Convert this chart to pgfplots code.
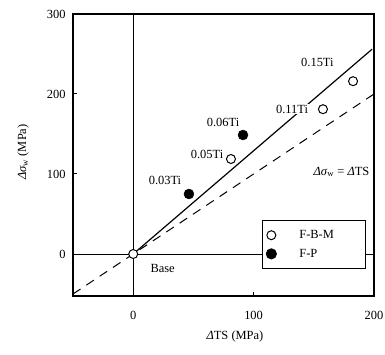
\documentclass[border=0pt]{standalone}
\usepackage{pgfplots}
\pgfplotsset{compat=1.18}
\usepackage{fontspec}
\setmainfont{Liberation Serif}
\begin{document}
\begin{tikzpicture}
\path[use as bounding box] (0,0) rectangle (385bp,355bp);
\begin{axis}[
 at={(73bp,59bp)}, anchor=south west,
 scale only axis, width=301bp, height=282bp,
 xmin=-50, xmax=200, ymin=-52.5, ymax=300,
 xtick={0,100,200}, ytick={0,100,200,300},
 tick pos=left, tick align=inside, major tick length=4bp,
 tick style={line width=1pt, black},
 axis line style={line width=1.1pt},
 font=\fontsize{12.5}{14}\selectfont,
 /pgf/number format/assume math mode=true,
 xticklabel style={yshift=-12bp},
 yticklabel style={xshift=-4bp},
 xlabel={\textit{Δ}TS (MPa)},
 ylabel={\textit{Δσ}\textsubscript{w} (MPa)},
 xlabel style={at={(axis description cs:0.538,-0.145)}, anchor=center},
 ylabel style={at={(axis description cs:-0.166,0.51)}, anchor=center},
 legend style={at={(0.973,0.270)}, anchor=north east, draw=black, line width=1.1pt,
   inner xsep=4bp, inner ysep=8bp, row sep=5bp, font=\fontsize{12.5}{14}\selectfont},
 legend cell align=left,
 clip=false,
]
\addplot[black, line width=1pt, forget plot] coordinates {(-50,0) (200,0)};
\addplot[black, line width=1pt, forget plot] coordinates {(0,-52.5) (0,300)};
\addplot[black, line width=1.2pt, forget plot] coordinates {(0,0) (198.4,256)};
\addplot[black, line width=1pt, dash pattern=on 9bp off 7bp, forget plot] coordinates {(-50,-50) (200,200)};
\addplot[only marks, mark=*, mark size=4.5bp, mark options={fill=white, draw=black, line width=1pt}]
  coordinates {(0,0) (81.2,118.75) (157.6,181) (182.6,216)};
\addlegendentry{\hspace{21bp}\makebox[60bp][l]{F-B-M}}
\addplot[only marks, mark=*, mark size=5bp, mark options={fill=black, draw=black}]
  coordinates {(46.3,75) (91.2,148.75)};
\addlegendentry{\hspace{21bp}\makebox[60bp][l]{F-P}}
\node at (axis cs:26.4,92.5) {0.03Ti};
\node at (axis cs:61.3,124) {0.05Ti};
\node at (axis cs:74.6,164) {0.06Ti};
\node[fill=white, inner sep=1bp] at (axis cs:131.9,181) {0.11Ti};
\node at (axis cs:153,239) {0.15Ti};
\node at (axis cs:173,102.5) {\textit{Δσ}\textsubscript{w} = \textit{Δ}TS};
\node[anchor=west] at (axis cs:11.5,-17.5) {Base};
\end{axis}
\end{tikzpicture}
\end{document}
